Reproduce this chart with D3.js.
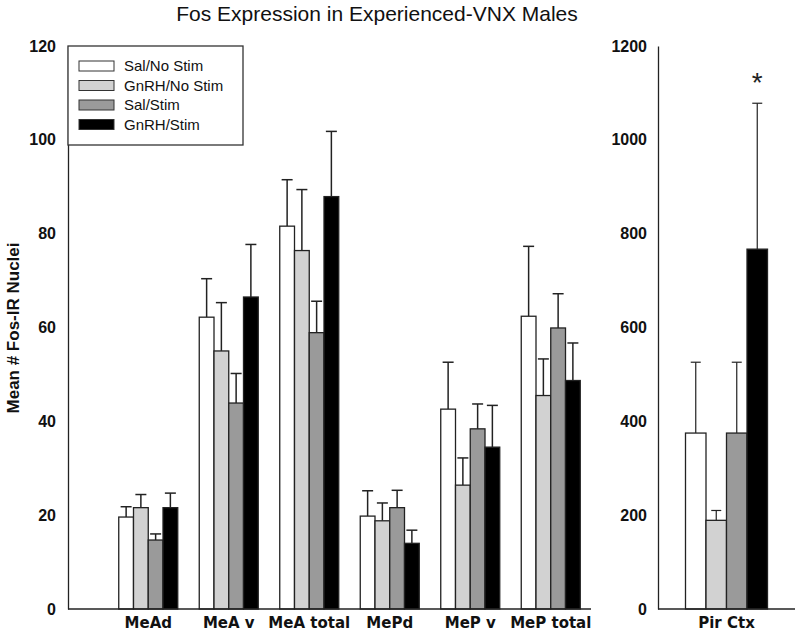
<!DOCTYPE html>
<html>
<head>
<meta charset="utf-8">
<script src="https://cdn.jsdelivr.net/npm/d3@7"></script>
<style>
  body { margin: 0; background: #fff; }
  text { font-family: "Liberation Sans", Arial, sans-serif; }
  .tick text { font-weight: bold; font-size: 16px; fill: #111; }
  .cat .tick text { font-family: "DejaVu Sans", sans-serif; font-size: 15px; }
</style>
</head>
<body>
<div id="chart"></div>
<script>
const groups = ["MeAd", "MeA v", "MeA total", "MePd", "MeP v", "MeP total"];
const series = ["Sal/No Stim", "GnRH/No Stim", "Sal/Stim", "GnRH/Stim"];

const salNoStim     = [19.6, 62.2, 81.6, 19.8, 42.6, 62.4];
const salNoStimErr  = [2.2, 8.2, 9.9, 5.4, 10.0, 14.9];
const gnrhNoStim    = [21.6, 55.0, 76.4, 18.8, 26.4, 45.5];
const gnrhNoStimErr = [2.8, 10.3, 13.0, 3.8, 5.8, 7.8];
const salStim       = [14.7, 43.9, 58.9, 21.6, 38.4, 59.9];
const salStimErr    = [1.3, 6.3, 6.7, 3.7, 5.3, 7.3];
const gnrhStim      = [21.6, 66.5, 87.9, 14.0, 34.5, 48.7];
const gnrhStimErr   = [3.1, 11.2, 13.9, 2.8, 8.9, 8.0];

const pirGroup  = ["Pir Ctx"];
const pirCtx    = [375, 189, 375, 767];
const pirCtxErr = [151, 21, 151, 311];

const leftTicks = [0, 20, 40, 60, 80, 100, 120];
const rightTicks = [0, 200, 400, 600, 800, 1000, 1200];

const fills = ["#ffffff", "#d2d2d2", "#9a9a9a", "#000000"];

const width = 800, height = 641;
const svg = d3.select("#chart").append("svg")
  .attr("width", width)
  .attr("height", height);

const yBase = 609, yTop = 46;

// title
svg.append("text")
  .attr("x", 377)
  .attr("y", 21)
  .attr("text-anchor", "middle")
  .style("font-size", "21px")
  .attr("fill", "#111")
  .text("Fos Expression in Experienced-VNX Males");

// y label
svg.append("text")
  .attr("transform", "rotate(-90)")
  .attr("x", -328)
  .attr("y", 19)
  .attr("text-anchor", "middle")
  .style("font-size", "17px")
  .style("font-weight", "bold")
  .attr("fill", "#111")
  .text("Mean # Fos-IR Nuclei");

// ---------- left panel ----------
const yL = d3.scaleLinear().domain([0, 120]).range([yBase, yTop]);
const x0 = d3.scaleBand().domain(groups).range([108, 591]);
const groupW = 59;
const x1 = d3.scaleBand().domain(series).range([0, groupW]);

const rows = groups.map((g, i) => ({
  group: g,
  vals: [
    {s: series[0], v: salNoStim[i], e: salNoStimErr[i]},
    {s: series[1], v: gnrhNoStim[i], e: gnrhNoStimErr[i]},
    {s: series[2], v: salStim[i], e: salStimErr[i]},
    {s: series[3], v: gnrhStim[i], e: gnrhStimErr[i]}
  ]
}));

function drawBars(g, data, xg, xs, y, gw, errW, errStroke) {
  const grp = g.selectAll(null)
    .data(data)
    .enter().append("g")
    .attr("transform", d => `translate(${xg(d.group) + (xg.bandwidth() - gw) / 2}, 0)`);

  // error bars (upper only)
  grp.selectAll(".err")
    .data(d => d.vals)
    .enter().append("g")
    .attr("class", "err")
    .each(function(d) {
      const cx = xs(d.s) + xs.bandwidth() / 2;
      const gg = d3.select(this);
      gg.append("line")
        .attr("x1", cx).attr("x2", cx)
        .attr("y1", y(d.v)).attr("y2", y(d.v + d.e))
        .attr("stroke", "#222").attr("stroke-width", errStroke);
      gg.append("line")
        .attr("x1", cx - errW / 2).attr("x2", cx + errW / 2)
        .attr("y1", y(d.v + d.e)).attr("y2", y(d.v + d.e))
        .attr("stroke", "#222").attr("stroke-width", errStroke);
    });

  grp.selectAll("rect")
    .data(d => d.vals)
    .enter().append("rect")
    .attr("x", d => xs(d.s))
    .attr("y", d => y(d.v))
    .attr("width", xs.bandwidth())
    .attr("height", d => y(0) - y(d.v))
    .attr("fill", (d, i) => fills[i])
    .attr("stroke", "#222")
    .attr("stroke-width", 1.3);
}

drawBars(svg, rows, x0, x1, yL, groupW, 11, 1.5);

svg.append("g")
  .attr("transform", "translate(68,0)")
  .call(d3.axisLeft(yL).tickValues(leftTicks).tickSize(0).tickPadding(12))
  .call(g => g.select(".domain").attr("stroke", "#222").attr("stroke-width", 1.3));

svg.append("line")
  .attr("x1", 68).attr("x2", 591)
  .attr("y1", yBase).attr("y2", yBase)
  .attr("stroke", "#222").attr("stroke-width", 1.3);

svg.append("g")
  .attr("class", "cat")
  .attr("transform", `translate(0,${yBase})`)
  .call(d3.axisBottom(x0).tickSize(0).tickPadding(8))
  .call(g => g.select(".domain").remove());

// legend
const leg = svg.append("g");
leg.append("rect")
  .attr("x", 68).attr("y", 46)
  .attr("width", 175).attr("height", 99)
  .attr("fill", "#fff")
  .attr("stroke", "#333").attr("stroke-width", 1.3);
series.forEach((s, i) => {
  const cy = 66 + i * 19.5;
  leg.append("rect")
    .attr("x", 79).attr("y", cy - 5)
    .attr("width", 35).attr("height", 10)
    .attr("fill", fills[i])
    .attr("stroke", "#333").attr("stroke-width", 1);
  leg.append("text")
    .attr("x", 124).attr("y", cy + 5)
    .style("font-size", "15px")
    .attr("fill", "#111")
    .text(s);
});

// ---------- right panel ----------
const yR = d3.scaleLinear().domain([0, 1200]).range([yBase, yTop]);
const xR = d3.scaleBand().domain(pirGroup).range([658, 795]);
const groupWR = 82;
const xsR = d3.scaleBand().domain(series).range([0, groupWR]);

const pirRows = [{
  group: pirGroup[0],
  vals: series.map((s, i) => ({s: s, v: pirCtx[i], e: pirCtxErr[i]}))
}];

drawBars(svg, pirRows, xR, xsR, yR, groupWR, 10, 1.2);

svg.append("g")
  .attr("transform", "translate(658,0)")
  .call(d3.axisLeft(yR).tickValues(rightTicks).tickFormat(d3.format("d")).tickSize(0).tickPadding(11))
  .call(g => g.select(".domain").attr("stroke", "#222").attr("stroke-width", 1.3));

svg.append("line")
  .attr("x1", 658).attr("x2", 795)
  .attr("y1", yBase).attr("y2", yBase)
  .attr("stroke", "#222").attr("stroke-width", 1.3);

svg.append("g")
  .attr("class", "cat")
  .attr("transform", `translate(0,${yBase})`)
  .call(d3.axisBottom(xR).tickSize(0).tickPadding(8))
  .call(g => g.select(".domain").remove());

// significance marker
const starX = xR(pirGroup[0]) + (xR.bandwidth() - groupWR) / 2 + xsR(series[3]) + xsR.bandwidth() / 2;
svg.append("text")
  .attr("x", starX)
  .attr("y", yR(pirCtx[3] + pirCtxErr[3]) - 11)
  .attr("text-anchor", "middle")
  .style("font-size", "28px")
  .attr("fill", "#222")
  .text("*");
</script>
</body>
</html>
